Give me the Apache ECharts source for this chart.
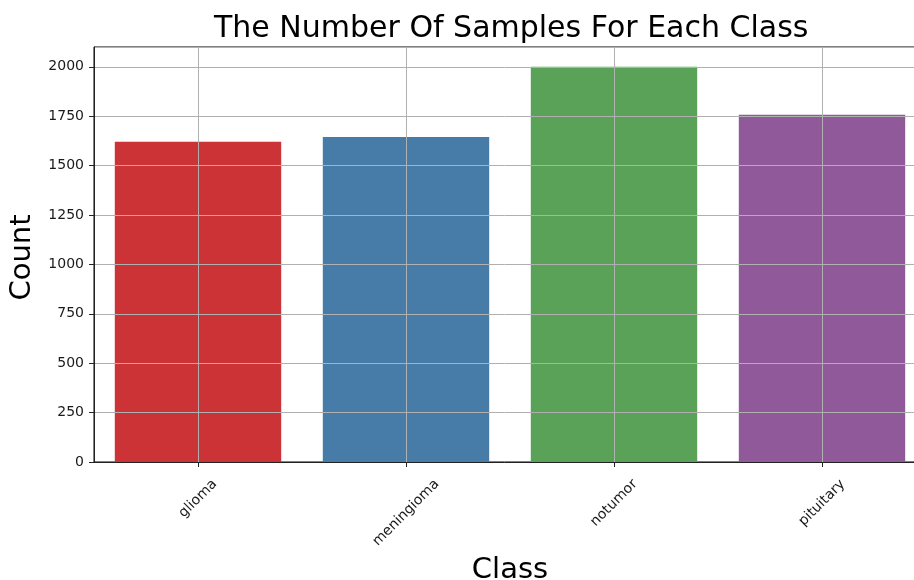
<!DOCTYPE html>
<html><head><meta charset="utf-8">
<script src="https://cdn.jsdelivr.net/npm/echarts@6/dist/echarts.min.js"></script>
<style>html,body{margin:0;padding:0;background:#fff}#c{width:914px;height:580px}</style>
</head><body><div id="c"></div>
<script>
const categories = ['glioma', 'meningioma', 'notumor', 'pituitary'];
const counts = [1621, 1645, 2000, 1757];
const barColors = ['#cb3336', '#477ca8', '#59a257', '#90599a'];
const titleText = 'The Number Of Samples For Each Class';
const xName = 'Class';
const yName = 'Count';

const FONT = '"DejaVu Sans", Verdana, sans-serif';
const ctx = document.createElement('canvas').getContext('2d');
ctx.font = '14px "DejaVu Sans"';
const rich = {};
categories.forEach((c, i) => {
  const L = ctx.measureText(c).width;
  const p = 0.5 * (L + 14);
  rich['l' + i] = { fontFamily: FONT, fontSize: 14, color: '#1a1a1a', padding: [p, p, 0, 0] };
});
ctx.font = '30px "DejaVu Sans"';
const titleW = ctx.measureText(titleText).width;

const chart = echarts.init(document.getElementById('c'), null, { renderer: 'canvas' });
chart.setOption({
  animation: false,
  backgroundColor: '#fff',
  title: {
    text: titleText,
    left: Math.round(511 - titleW / 2) - 5,
    top: 9,
    textStyle: { fontFamily: FONT, fontSize: 30, fontWeight: 'normal', color: '#000' }
  },
  grid: {
    left: 94, right: -12, top: 47, bottom: 118,
    show: true, borderColor: '#000', borderWidth: 1, backgroundColor: 'transparent',
    containLabel: false, outerBoundsMode: 'none'
  },
  xAxis: {
    type: 'category',
    data: categories,
    boundaryGap: true,
    z: 3,
    name: xName,
    nameLocation: 'middle',
    nameGap: 104,
    nameTextStyle: { fontFamily: FONT, fontSize: 29, color: '#000', verticalAlign: 'middle' },
    axisLine: { show: true, lineStyle: { color: '#222', width: 1 } },
    axisTick: { show: true, alignWithLabel: true, length: 5, lineStyle: { color: '#222' } },
    axisLabel: {
      interval: 0, rotate: 45, margin: 15, align: 'center', verticalAlign: 'middle',
      fontFamily: FONT, fontSize: 14, color: '#1a1a1a', hideOverlap: false,
      formatter: (v, i) => '{l' + i + '|' + v + '}',
      rich: rich
    },
    splitLine: { show: true, alignWithLabel: true, lineStyle: { color: '#b0b0b0', width: 1 } }
  },
  yAxis: {
    type: 'value',
    min: 0, max: 2100, interval: 250,
    z: 3,
    name: yName,
    nameLocation: 'middle',
    nameGap: 72,
    nameTextStyle: { fontFamily: FONT, fontSize: 29, color: '#000', verticalAlign: 'middle', padding: [0, 6, 0, 0] },
    axisLine: { show: true, lineStyle: { color: '#222', width: 1 } },
    axisTick: { show: true, length: 5, lineStyle: { color: '#222' } },
    axisLabel: { margin: 10, fontFamily: FONT, fontSize: 14, color: '#1a1a1a', showMaxLabel: false,
      formatter: v => String(v) },
    splitLine: { show: true, lineStyle: { color: '#b0b0b0', width: 1 } }
  },
  series: [{
    type: 'bar',
    data: counts.map((v, i) => ({ value: v, itemStyle: { color: barColors[i] } })),
    barCategoryGap: '20%'
  }]
});
</script>
</body></html>
